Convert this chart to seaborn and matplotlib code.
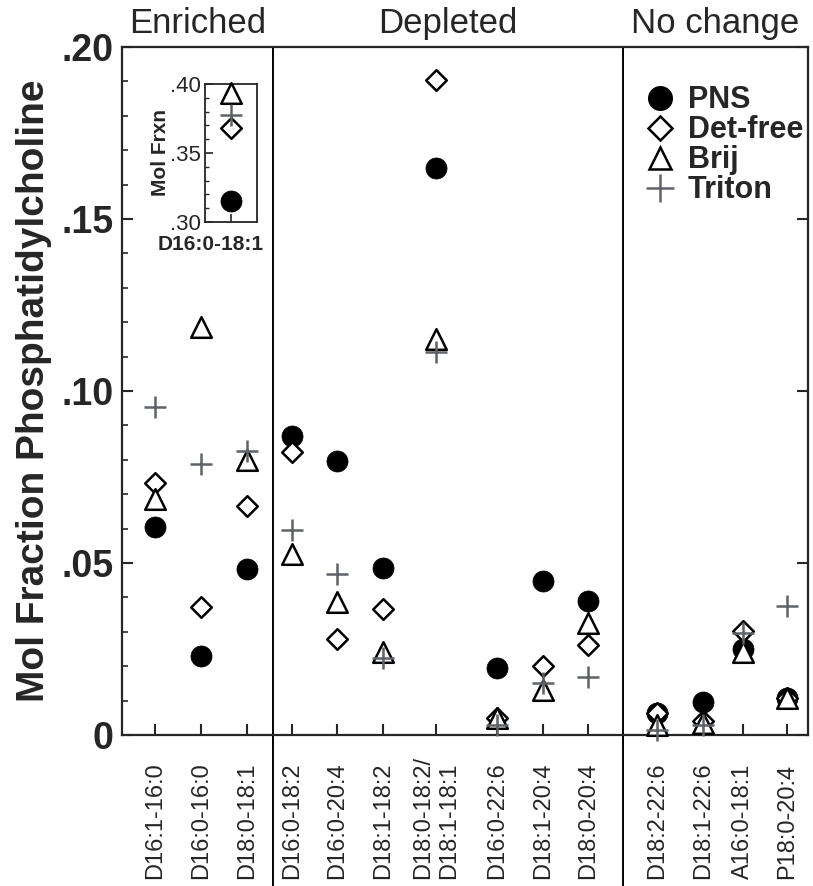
import numpy as np
import pandas as pd
import matplotlib
matplotlib.use("Agg")
import matplotlib.pyplot as plt
from matplotlib.lines import Line2D
from matplotlib.ticker import MultipleLocator
from matplotlib.transforms import ScaledTranslation
import seaborn as sns

# data
lipids = ["D16:1-16:0", "D16:0-16:0", "D18:0-18:1",
          "D16:0-18:2", "D16:0-20:4", "D18:1-18:2", "D18:0-18:2/\nD18:1-18:1",
          "D16:0-22:6", "D18:1-20:4", "D18:0-20:4",
          "D18:2-22:6", "D18:1-22:6", "A16:0-18:1", "P18:0-20:4"]
groups = ["Enriched", "Depleted", "No change"]

pns = [0.0605, 0.0231, 0.0482, 0.0868, 0.0796, 0.0485, 0.1647,
       0.0196, 0.0447, 0.0389, 0.0064, 0.0097, 0.0249, 0.0108]
det_free = [0.0734, 0.0371, 0.0667, 0.0822, 0.0280, 0.0367, 0.1904,
            0.0048, 0.0202, 0.0263, 0.0064, 0.0040, 0.0301, 0.0108]
brij = [0.0687, 0.1187, 0.0800, 0.0525, 0.0386, 0.0240, 0.1150,
        0.0050, 0.0132, 0.0325, 0.0030, 0.0035, 0.0240, 0.0108]
triton = [0.0953, 0.0787, 0.0825, 0.0595, 0.0467, 0.0225, 0.1112,
          0.0030, 0.0152, 0.0170, 0.0015, 0.0028, 0.0297, 0.0375]

# inset: D16:0-18:1
inset_label = "D16:0-18:1"
inset_vals = {"PNS": 0.315, "Det-free": 0.368, "Brij": 0.3935, "Triton": 0.3775}

# x slot positions (uneven, the double label takes more room)
xpos = [155, 201, 247, 292, 337, 383, 436, 497, 543, 588, 657, 703, 743, 787]
dividers = [273, 623]

series = {"PNS": pns, "Det-free": det_free, "Brij": brij, "Triton": triton}
rows = []
for name, vals in series.items():
    for i in range(len(lipids)):
        rows.append({"prep": name, "lipid": lipids[i], "x": xpos[i], "value": vals[i]})
df = pd.DataFrame(rows)

styles = {
    "PNS": dict(marker="o", s=230, color="black", edgecolor="black", linewidth=0.5, zorder=3),
    "Det-free": dict(marker="D", s=110, color="white", edgecolor="black", linewidth=1.8, zorder=4),
    "Brij": dict(marker="^", s=220, color="white", edgecolor="black", linewidth=1.8, zorder=5),
    "Triton": dict(marker="+", s=260, color="#5f6266", linewidth=1.8, zorder=6),
}

sns.set_style("ticks")
plt.rcParams["font.family"] = ["Liberation Sans", "DejaVu Sans"]

fig = plt.figure(figsize=(8.13, 8.86), dpi=100)
ax = fig.add_axes([122 / 813, 1 - 735 / 886, 686 / 813, 688 / 886])

for name in series:
    sub = df[df["prep"] == name]
    sns.scatterplot(data=sub, x="x", y="value", ax=ax, legend=False, clip_on=False, **styles[name])

ax.set_xlim(122, 808)
ax.set_ylim(0, 0.2)
ax.set_xlabel("")
ax.set_ylabel("Mol Fraction Phosphatidylcholine", fontsize=28, fontweight="bold", labelpad=7)

ax.yaxis.set_minor_locator(MultipleLocator(0.01))
ax.set_yticks([0, 0.05, 0.10, 0.15, 0.20])
ax.set_yticklabels(["0", ".05", ".10", ".15", ".20"], fontsize=27, fontweight="bold")
ax.tick_params(axis="y", which="major", direction="in", length=8, width=1.5, right=True, pad=6)
ax.tick_params(axis="y", which="minor", direction="in", length=4, width=1.2, right=False)

ax.set_xticks(xpos)
ax.set_xticklabels(lipids, rotation=90, fontsize=17, va="bottom", ha="center", ma="left")
ax.tick_params(axis="x", direction="in", length=8, width=1.5, pad=104)

for sp in ax.spines.values():
    sp.set_linewidth(1.6)

for d in dividers:
    ax.axvline(d, ymin=-0.22, ymax=1, color="black", linewidth=1.4, clip_on=False)

# section titles centred in each block
edges = [122] + dividers + [808]
for i, g in enumerate(groups):
    mid = (edges[i] + edges[i + 1]) / 2
    ax.text(mid, 1.034, g, transform=ax.get_xaxis_transform(), ha="center", va="center", fontsize=25)

# legend
handles = []
for name in series:
    st = styles[name]
    if name == "Triton":
        h = Line2D([], [], linestyle="none", marker="+", markersize=20, color=st["color"], markeredgewidth=1.8)
    elif name == "PNS":
        h = Line2D([], [], linestyle="none", marker="o", markersize=17, color="black")
    else:
        ms = 12 if name == "Det-free" else 16
        h = Line2D([], [], linestyle="none", marker=st["marker"], markersize=ms, markerfacecolor="white",
                   markeredgecolor="black", markeredgewidth=1.8)
    handles.append(h)
leg = ax.legend(handles, list(series.keys()), loc="upper left", bbox_to_anchor=(0.74, 0.962),
                frameon=False, handletextpad=0.3, labelspacing=0.0, borderaxespad=0,
                handlelength=1.2, prop={"size": 22, "weight": "bold"})

# inset
axins = fig.add_axes([205 / 813, 1 - 222 / 886, 52 / 813, 138 / 886])
for name, v in inset_vals.items():
    inset_df = pd.DataFrame({"x": [0], "value": [v]})
    sns.scatterplot(data=inset_df, x="x", y="value", ax=axins, legend=False, clip_on=False, **styles[name])
axins.set_xlim(-1, 1)
axins.set_ylim(0.30, 0.40)
axins.set_xticks([0])
axins.set_xticklabels([inset_label], fontsize=15, fontweight="bold")
axins.set_xlabel("")
axins.set_yticks([0.30, 0.35, 0.40])
axins.set_yticklabels([".30", ".35", ".40"], fontsize=16)
axins.yaxis.set_minor_locator(MultipleLocator(0.01))
axins.tick_params(axis="y", which="major", direction="in", length=6, width=1.2, pad=3)
axins.tick_params(axis="y", which="minor", direction="in", length=3, width=1.0)
axins.tick_params(axis="x", direction="in", length=6, width=1.2, pad=9)
for lab in axins.get_xticklabels():
    lab.set_transform(lab.get_transform() + ScaledTranslation(-20 / 100, 0, fig.dpi_scale_trans))
axins.set_ylabel("Mol Frxn", fontsize=15, fontweight="bold", labelpad=0)
for sp in axins.spines.values():
    sp.set_linewidth(1.3)

fig.savefig("out.png", dpi=100)
